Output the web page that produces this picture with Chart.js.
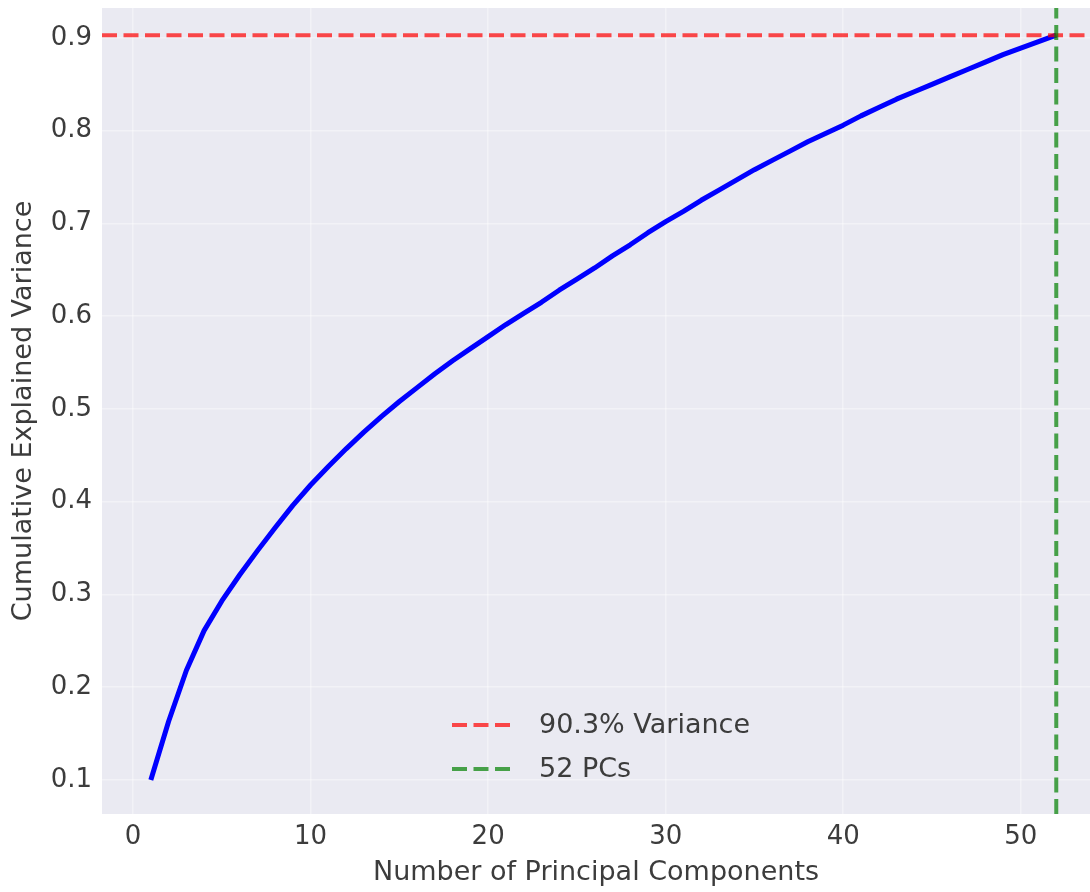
<!DOCTYPE html>
<html>
<head>
<meta charset="utf-8">
<script src="https://cdn.jsdelivr.net/npm/chart.js@4.4.0/dist/chart.umd.min.js"></script>
<style>
  html, body { margin: 0; padding: 0; background: #fff; }
</style>
</head>
<body>
<canvas id="pca" width="1090" height="892"></canvas>
<script>
// cumulative explained variance per number of PCs
var components = [];
for (var n = 1; n <= 52; n++) components.push(n);
var cumVariance = [
  0.100, 0.163, 0.218, 0.261, 0.293, 0.321, 0.347, 0.372, 0.396, 0.418,
  0.438, 0.457, 0.475, 0.492, 0.508, 0.523, 0.538, 0.552, 0.565, 0.578,
  0.591, 0.603, 0.615, 0.628, 0.640, 0.652, 0.665, 0.677, 0.690, 0.702,
  0.713, 0.725, 0.736, 0.747, 0.758, 0.768, 0.778, 0.788, 0.797, 0.806,
  0.816, 0.825, 0.834, 0.842, 0.850, 0.858, 0.866, 0.874, 0.882, 0.889,
  0.896, 0.903
];
var xTicks = [0, 10, 20, 30, 40, 50];
var yTicks = [0.1, 0.2, 0.3, 0.4, 0.5, 0.6, 0.7, 0.8, 0.9];
var thresholdVariance = 0.903;
var chosenPCs = 52;
var xRange = [-1.75, 53.9];
var yRange = [0.0633, 0.9323];

var FONT = 'DejaVu Sans';
var TEXT = '#3c3c3c';
var GRID = 'rgba(255,255,255,0.4)';

var curve = components.map(function(c, i) { return { x: c, y: cumVariance[i] }; });

// white page + seaborn-ish panel
var panelBg = {
  id: 'panelBg',
  beforeDraw: function(chart) {
    var ctx = chart.ctx, a = chart.chartArea;
    ctx.save();
    ctx.fillStyle = '#ffffff';
    ctx.fillRect(0, 0, chart.width, chart.height);
    ctx.fillStyle = '#EAEAF2';
    ctx.fillRect(a.left, a.top, a.right - a.left, a.bottom - a.top);
    ctx.restore();
  }
};

// legend drawn inside the plot, lower middle
var innerLegend = {
  id: 'innerLegend',
  afterDraw: function(chart) {
    var ctx = chart.ctx, a = chart.chartArea;
    var items = chart.data.datasets.filter(function(d) { return d.inLegend; });
    var x0 = a.left + 350, rowGap = 44;
    var y0 = a.bottom - 45 - (items.length - 1) * rowGap;
    ctx.save();
    ctx.font = '27px "' + FONT + '"';
    ctx.textBaseline = 'middle';
    items.forEach(function(d, i) {
      var y = y0 + i * rowGap;
      ctx.strokeStyle = d.borderColor;
      ctx.lineWidth = d.borderWidth;
      ctx.setLineDash(d.borderDash);
      ctx.beginPath();
      ctx.moveTo(x0, y);
      ctx.lineTo(x0 + 63, y);
      ctx.stroke();
      ctx.setLineDash([]);
      ctx.fillStyle = TEXT;
      ctx.fillText(d.label, x0 + 87, y + 1);
    });
    ctx.restore();
  }
};

function noEdgePadding(s) {
  s.paddingTop = 0; s.paddingBottom = 0; s.paddingLeft = 0; s.paddingRight = 0;
}

new Chart(document.getElementById('pca'), {
  type: 'line',
  data: {
    datasets: [
      {
        label: (thresholdVariance * 100).toFixed(1) + '% Variance',
        inLegend: true,
        data: [{ x: xRange[0], y: thresholdVariance }, { x: xRange[1], y: thresholdVariance }],
        borderColor: 'rgba(255,0,0,0.7)',
        borderWidth: 4,
        borderDash: [15, 6.5],
        pointRadius: 0,
        order: 1
      },
      {
        label: chosenPCs + ' PCs',
        inLegend: true,
        data: [{ x: chosenPCs, y: yRange[0] }, { x: chosenPCs, y: yRange[1] }],
        borderColor: 'rgba(0,128,0,0.7)',
        borderWidth: 4,
        borderDash: [15, 6.5],
        pointRadius: 0,
        order: 0
      },
      {
        label: 'Cumulative',
        data: curve,
        borderColor: '#0000ff',
        borderWidth: 5,
        borderJoinStyle: 'round',
        pointRadius: 0,
        tension: 0,
        order: 2
      }
    ]
  },
  options: {
    responsive: false,
    animation: false,
    devicePixelRatio: 1,
    layout: { padding: { top: 8, right: 0, left: 0, bottom: 0 } },
    plugins: { legend: { display: false }, tooltip: { enabled: false } },
    scales: {
      x: {
        type: 'linear',
        min: xRange[0],
        max: xRange[1],
        afterBuildTicks: function(s) { s.ticks = xTicks.map(function(v) { return { value: v }; }); },
        afterFit: function(s) { s.height = 78; noEdgePadding(s); },
        grid: { color: GRID, lineWidth: 1.5, drawTicks: false },
        border: { display: false },
        ticks: { font: { family: FONT, size: 26 }, color: TEXT, padding: 8 },
        title: {
          display: true,
          text: 'Number of Principal Components',
          font: { family: FONT, size: 27 },
          color: TEXT,
          padding: { top: 0, bottom: 3 }
        }
      },
      y: {
        min: yRange[0],
        max: yRange[1],
        afterBuildTicks: function(s) { s.ticks = yTicks.map(function(v) { return { value: v }; }); },
        afterFit: function(s) { s.width = 102; noEdgePadding(s); },
        grid: { color: GRID, lineWidth: 1.5, drawTicks: false },
        border: { display: false },
        ticks: {
          font: { family: FONT, size: 26 },
          color: TEXT,
          padding: 10,
          callback: function(v) { return v.toFixed(1); }
        },
        title: {
          display: true,
          text: 'Cumulative Explained Variance',
          font: { family: FONT, size: 27 },
          color: TEXT,
          padding: { top: 8, bottom: 0 }
        }
      }
    }
  },
  plugins: [panelBg, innerLegend]
});
</script>
</body>
</html>
